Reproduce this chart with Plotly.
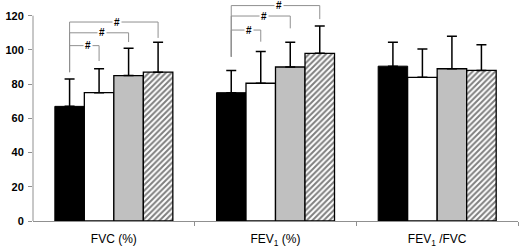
import plotly.graph_objects as go

categories = ["FVC (%)", "FEV<sub>1</sub> (%)", "FEV<sub>1</sub> /FVC"]
group_a = [67, 75, 90.5]
err_a = [16, 13, 14]
group_b = [75, 80.5, 84]
err_b = [14, 18.5, 16.5]
group_c = [85, 90, 89]
err_c = [16, 14.5, 19]
group_d = [87, 98, 88]
err_d = [17.5, 16, 15]

# significance brackets: category index, target group index, bracket height, right-end bottom, left-end bottom
br_cat = [0, 0, 0, 1, 1, 1]
br_to = [1, 2, 3, 1, 2, 3]
br_y = [102.5, 110, 116.3, 111.6, 119.8, 125.9]
br_end = [93.5, 104.6, 107, 104.8, 112.6, 118]
br_start = [87, 87, 87, 96, 96, 96]

bargap = 0.27
n = 4
w = (1 - bargap) / n
x = list(range(len(categories)))

def centre(c, g):
    return c + (g - (n - 1) / 2) * w

fig = go.Figure()
styles = [
    dict(color="black", line=dict(color="black", width=1)),
    dict(color="white", line=dict(color="black", width=1.3)),
    dict(color="#c0c0c0", line=dict(color="black", width=1.3)),
    dict(color="white", line=dict(color="black", width=1.3),
         pattern=dict(shape="/", fgcolor="black", bgcolor="white", size=4, solidity=0.5)),
]
for vals, errs, st in zip([group_a, group_b, group_c, group_d], [err_a, err_b, err_c, err_d], styles):
    fig.add_trace(go.Bar(
        x=x, y=vals, marker=st,
        error_y=dict(type="data", symmetric=False, array=errs, arrayminus=[0] * len(errs),
                     color="black", thickness=1.5, width=5),
        showlegend=False, hoverinfo="skip"))

shapes = []
annotations = []
gray = "#909090"
for c, t, y, ye, ys in zip(br_cat, br_to, br_y, br_end, br_start):
    x0 = centre(c, 0)
    x1 = centre(c, t)
    shapes.append(dict(type="line", xref="x", yref="y", x0=x0, x1=x1, y0=y, y1=y, line=dict(color=gray, width=1)))
    shapes.append(dict(type="line", xref="x", yref="y", x0=x0, x1=x0, y0=ys, y1=y, line=dict(color=gray, width=1)))
    shapes.append(dict(type="line", xref="x", yref="y", x0=x1, x1=x1, y0=ye, y1=y, line=dict(color=gray, width=1)))
    annotations.append(dict(x=(x0 + x1) / 2 + 0.02, y=y, xref="x", yref="y", text="#", showarrow=False,
                            font=dict(family="Liberation Sans", size=10, color="black", weight="bold"),
                            bgcolor="white", borderpad=1, xanchor="center", yanchor="middle"))
# y-axis line only up to 120
shapes.append(dict(type="line", xref="paper", yref="y", x0=0, x1=0, y0=0, y1=120, line=dict(color=gray, width=1)))

fig.update_layout(
    width=520, height=249,
    margin=dict(l=33, r=2, t=2, b=28, autoexpand=False),
    paper_bgcolor="white", plot_bgcolor="white",
    barmode="group", bargap=bargap, bargroupgap=0,
    shapes=shapes, annotations=annotations,
    xaxis=dict(range=[-0.5, 2.5], tickvals=x, ticktext=categories, ticks="", automargin=False,
               ticklabelstandoff=7,
               showline=True, linecolor=gray, linewidth=1, showgrid=False, zeroline=False,
               tickfont=dict(family="Liberation Sans", size=12, color="black"),
               minor=dict(tickvals=[0.5, 1.5, 2.5], ticks="outside", ticklen=4, tickcolor=gray, showgrid=False)),
    yaxis=dict(range=[0, 128], tickvals=[0, 20, 40, 60, 80, 100, 120], ticks="outside", ticklen=4,
               tickcolor=gray, showline=False, showgrid=False, zeroline=False, automargin=False,
               ticklabelstandoff=2,
               tickfont=dict(family="Liberation Sans", size=11, color="black", weight="bold")),
)
fig.write_html("out.html", config={"displayModeBar": False},
               post_script="document.body.style.margin='0';document.body.style.padding='0';")
